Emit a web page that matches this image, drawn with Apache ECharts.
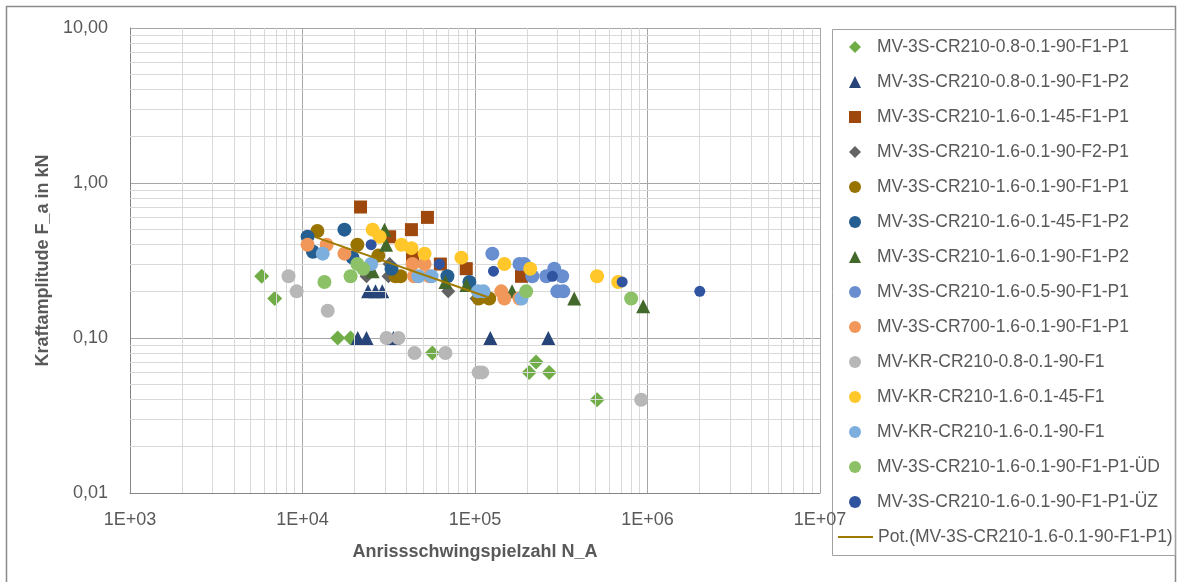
<!DOCTYPE html>
<html>
<head>
<meta charset="utf-8">
<script src="https://cdn.jsdelivr.net/npm/echarts@6/dist/echarts.min.js"></script>
<style>html,body{margin:0;padding:0;background:#fff;}#c{width:1178px;height:582px;}</style>
</head>
<body>
<div id="c"></div>
<script>
// ---- data ([N_A, F_a]) ----
const names = [
  'MV-3S-CR210-0.8-0.1-90-F1-P1',
  'MV-3S-CR210-0.8-0.1-90-F1-P2',
  'MV-3S-CR210-1.6-0.1-45-F1-P1',
  'MV-3S-CR210-1.6-0.1-90-F2-P1',
  'MV-3S-CR210-1.6-0.1-90-F1-P1',
  'MV-3S-CR210-1.6-0.1-45-F1-P2',
  'MV-3S-CR210-1.6-0.1-90-F1-P2',
  'MV-3S-CR210-1.6-0.5-90-F1-P1',
  'MV-3S-CR700-1.6-0.1-90-F1-P1',
  'MV-KR-CR210-0.8-0.1-90-F1',
  'MV-KR-CR210-1.6-0.1-45-F1',
  'MV-KR-CR210-1.6-0.1-90-F1',
  'MV-3S-CR210-1.6-0.1-90-F1-P1-ÜD',
  'MV-3S-CR210-1.6-0.1-90-F1-P1-ÜZ'
];
const trendName = 'Pot.(MV-3S-CR210-1.6-0.1-90-F1-P1)';

const s1 = [[5800,0.25],[6900,0.18],[16000,0.10],[19000,0.10],[56600,0.08],[206000,0.06],[226000,0.07],[269000,0.06],[510000,0.04]];
const s2 = [[24000,0.20],[26500,0.20],[29000,0.20],[20900,0.10],[23500,0.10],[33700,0.10],[122700,0.10],[266000,0.10]];
const s3 = [[21700,0.70],[32000,0.45],[42800,0.50],[53000,0.60],[43400,0.33],[63000,0.30],[89000,0.28],[186000,0.25]];
const s4 = [[23500,0.25],[31500,0.25],[32000,0.30],[70000,0.20],[102000,0.18]];
const s5 = [[12200,0.49],[20800,0.40],[27500,0.34],[34600,0.25],[37000,0.25],[105000,0.18],[121000,0.18]];
const s6 = [[10700,0.45],[11500,0.36],[17500,0.50],[19500,0.33],[32800,0.28],[69200,0.25],[92800,0.23]];
const s7 = [[29900,0.50],[30500,0.40],[25500,0.27],[67400,0.23],[89200,0.22],[164000,0.20],[376000,0.18],[944000,0.16]];
const s8 = [[126000,0.35],[181000,0.30],[193000,0.30],[215000,0.25],[259000,0.25],[288000,0.28],[320000,0.25],[300000,0.20],[325000,0.20]];
const s9 = [[10700,0.40],[13800,0.40],[17500,0.35],[43400,0.30],[51000,0.30],[44400,0.25],[54500,0.25],[142000,0.20],[148000,0.18],[181000,0.18]];
const s10 = [[8300,0.25],[9250,0.20],[14000,0.15],[30700,0.10],[36000,0.10],[44600,0.08],[67400,0.08],[105000,0.06],[110000,0.06],[919000,0.04]];
const s11 = [[25500,0.50],[28000,0.45],[37500,0.40],[42800,0.38],[51000,0.35],[83400,0.33],[148000,0.30],[209000,0.28],[510000,0.25],[676000,0.23]];
const s12 = [[13100,0.35],[25000,0.30],[47000,0.25],[56000,0.25],[104000,0.20],[112000,0.20],[186000,0.18]];
const s13 = [[13400,0.23],[19000,0.25],[20800,0.30],[22500,0.28],[198000,0.20],[804000,0.18]];
const s14 = [[25000,0.40],[62200,0.30],[128000,0.27],[281000,0.25],[713000,0.23],[2010000,0.20]];
const trend = [[11770,0.449],[118000,0.184]];

const xTicks = [1e3,1e4,1e5,1e6,1e7];
const yTicks = [0.01,0.1,1,10];

// ---- styling ----
const seriesData = [s1,s2,s3,s4,s5,s6,s7,s8,s9,s10,s11,s12,s13,s14];
const symbols = ['diamond','triangle','rect','diamond','circle','circle','triangle','circle','circle','circle','circle','circle','circle','circle'];
const sizes = [15,14,13,14,14,14,14,14,14,14,14,14,14,11];
const legendSizes = [11,12,12,11,12,12,12,12,12,12,12,12,11,10];
const colors = ['#70AD47','#264478','#9E480E','#636363','#997300','#255E91','#43682B','#698ED0','#F1975A','#B7B7B7','#FFC729','#7CAFDD','#8CC168','#3154A0'];
const FONT = '"Liberation Sans", Arial, sans-serif';

// minor grid line positions (2..9 within each decade)
const minorX = [], minorY = [];
for (let k = 0; k < xTicks.length - 1; k++) for (let m = 2; m <= 9; m++) minorX.push({xAxis: m * xTicks[k]});
for (let k = 0; k < yTicks.length - 1; k++) for (let m = 2; m <= 9; m++) minorY.push({yAxis: +(m * yTicks[k]).toPrecision(3)});

const series = [{
  name: '__grid', type: 'scatter', data: [], silent: true, z: 1,
  markLine: {
    silent: true, symbol: 'none', animation: false,
    label: {show: false},
    lineStyle: {color: '#D9D9D9', width: 1, type: 'solid'},
    data: minorX.concat(minorY)
  }
}];
seriesData.forEach((d, i) => {
  series.push({
    name: names[i], type: 'scatter', data: d, symbol: symbols[i], symbolSize: sizes[i],
    itemStyle: {color: colors[i], opacity: 1}, z: 3 + i
  });
});
series.push({
  name: trendName, type: 'line', data: trend, symbol: 'none', showSymbol: false,
  lineStyle: {color: '#A07A00', width: 2}, itemStyle: {color: '#A07A00'}, z: 20
});

const ITEM_PITCH = 35;
const chart = echarts.init(document.getElementById('c'), null, {renderer: 'canvas'});
chart.setOption({
  animation: false,
  backgroundColor: '#fff',
  textStyle: {fontFamily: FONT},
  grid: {left: 130, right: 358, top: 28, bottom: 89, containLabel: false},
  xAxis: {
    type: 'log', logBase: 10, min: xTicks[0], max: xTicks[xTicks.length - 1], splitNumber: 4,
    name: 'Anrissschwingspielzahl N_A', nameLocation: 'middle', nameGap: 50,
    nameTextStyle: {fontFamily: FONT, fontSize: 18, fontWeight: 'bold', color: '#595959'},
    axisLine: {show: true, lineStyle: {color: '#868686', width: 1}},
    axisTick: {show: false},
    axisLabel: {
      fontFamily: FONT, fontSize: 18, color: '#595959', margin: 18,
      formatter: v => { const e = Math.round(Math.log10(v)); return '1E+' + (e < 10 ? '0' : '') + e; }
    },
    splitLine: {show: true, lineStyle: {color: '#A6A6A6', width: 1}},
    minorSplitLine: {show: false}
  },
  yAxis: {
    type: 'log', logBase: 10, min: yTicks[0], max: yTicks[yTicks.length - 1], splitNumber: 3,
    name: 'Kraftamplitude F_a in kN', nameLocation: 'middle', nameGap: 77, nameRotate: 90,
    nameTextStyle: {fontFamily: FONT, fontSize: 18, fontWeight: 'bold', color: '#595959'},
    axisLine: {show: true, lineStyle: {color: '#868686', width: 1}},
    axisTick: {show: false},
    axisLabel: {
      fontFamily: FONT, fontSize: 18, color: '#595959', margin: 22,
      formatter: v => v.toFixed(2).replace('.', ',')
    },
    splitLine: {show: true, lineStyle: {color: '#A6A6A6', width: 1}}
  },
  legend: [{
    orient: 'vertical', left: 849, top: 37, padding: 0,
    itemWidth: 12, itemHeight: 12, itemGap: ITEM_PITCH - 20,
    data: names.map((n, i) => ({name: n, icon: symbols[i]})),
    textStyle: {fontFamily: FONT, fontSize: 17.5, color: '#595959', lineHeight: 20, padding: [0, 0, 0, 11]},
    selectedMode: false
  }, {
    orient: 'vertical', left: 838, top: 37 + ITEM_PITCH * 14, padding: 0,
    itemWidth: 35, itemHeight: 2, itemGap: 0,
    data: [{name: trendName, icon: 'rect', itemStyle: {color: '#A07A00'}}],
    textStyle: {fontFamily: FONT, fontSize: 17.5, color: '#595959', lineHeight: 20},
    selectedMode: false
  }],
  graphic: [
    {type: 'rect', silent: true, z: -1, shape: {x: 6.5, y: 6.5, width: 1169, height: 600},
     style: {fill: 'none', stroke: '#8A8A8A', lineWidth: 1.5}},
    {type: 'rect', silent: true, z: -1, shape: {x: 832.5, y: 29.5, width: 343, height: 526},
     style: {fill: 'none', stroke: '#A0A0A0', lineWidth: 1}}
  ],
  series: series
});
</script>
</body>
</html>
